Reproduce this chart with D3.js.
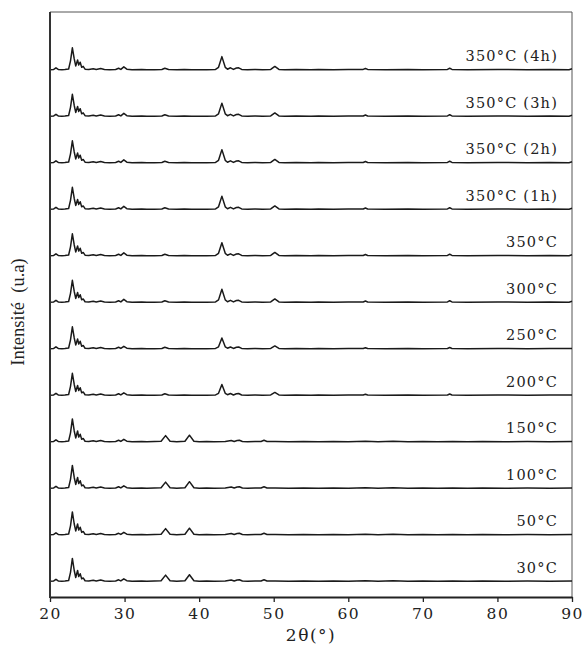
<!DOCTYPE html>
<html>
<head>
<meta charset="utf-8">
<script src="https://cdn.jsdelivr.net/npm/d3@7"></script>
<style>
    body { margin: 0; background: #fff; }
    svg { display: block; }
    .tick text { font-family: "DejaVu Serif", serif; font-size: 15.5px; letter-spacing: 1.5px; fill: #222; }
    .label { font-family: "DejaVu Serif", serif; font-size: 14.5px; letter-spacing: 1.2px; fill: #222; }
    .title { font-family: "DejaVu Serif", serif; font-size: 17px; letter-spacing: 1.5px; fill: #222; }
    .ytitle { font-family: "Liberation Serif", serif; font-size: 18.5px; fill: #222; white-space: pre; }
</style>
</head>
<body>
<svg id="chart"></svg>
<script>
"use strict";

const width = 585, height = 648;
const margin = {top: 12, right: 13, bottom: 51, left: 50};

// sample names, bottom to top
const samples = ['30°C', '50°C', '100°C', '150°C', '200°C', '250°C', '300°C',
    '350°C', '350°C (1h)', '350°C (2h)', '350°C (3h)', '350°C (4h)'];
// which pattern each sample uses
const sample_patterns = ['low', 'low', 'low', 'low', 'mid', 'mid', 'high',
    'high', 'high', 'high', 'high', 'high'];
const offset_step = 100;
const x_ticks = [20, 30, 40, 50, 60, 70, 80, 90];

// [2theta, intensity]
const xrd_low = [
    [20, 1], [20.5, 1.5], [20.8, 5], [21.1, 1.5], [21.6, 1], [22, 1.5], [22.5, 2.5], [22.75, 20], [23.0, 50],
    [23.25, 24], [23.45, 9], [23.7, 24], [23.85, 11], [24.05, 17], [24.25, 6], [24.45, 8], [24.7, 2],
    [25.2, 1.5], [25.8, 3], [26.2, 1.5], [26.8, 3.5], [27.3, 1.5], [28, 1], [28.8, 1.5], [29.2, 4],
    [29.5, 1.5], [29.9, 6], [30.3, 2], [31, 1], [32.3, 1.5], [33, 1], [34, 1.5], [34.9, 2], [35.5, 14],
    [36.1, 2], [37, 1], [38.1, 2], [38.7, 15], [39.3, 2], [40, 1], [41, 1.5], [42, 1], [43.5, 1.5],
    [44.3, 3.5], [44.7, 1.5], [45.1, 3.5], [45.4, 4], [45.8, 1.5], [46.5, 1], [47.5, 1.5], [48.3, 1.5],
    [48.7, 4], [49.1, 1.5], [50.2, 1.5], [52, 1], [54, 1.5], [56, 1], [58, 1.5], [60, 1], [62.3, 2],
    [64, 1], [66, 2], [68, 1], [70, 1.5], [72, 1], [74, 1.5], [76, 1], [78, 1.5], [81, 1], [84, 1.5],
    [87, 1], [90, 1.5]
];
const xrd_mid = [
    [20, 1], [20.5, 1.5], [20.8, 5], [21.1, 1.5], [21.6, 1], [22, 1.5], [22.5, 2.5], [22.75, 20], [23.0, 48],
    [23.25, 24], [23.45, 9], [23.7, 22], [23.85, 11], [24.05, 17], [24.25, 6], [24.45, 8], [24.7, 2],
    [25.2, 1.5], [25.8, 3], [26.2, 1.5], [26.8, 3.5], [27.3, 1.5], [28, 1], [28.8, 1.5], [29.2, 4],
    [29.5, 1.5], [29.9, 6], [30.3, 2], [31, 1], [32.3, 1.5], [33, 1], [34, 1], [35.0, 1.5], [35.4, 4],
    [35.9, 1.5], [37, 1], [38, 1.5], [39, 1], [40, 1], [41, 1], [42.2, 1.5], [42.6, 5], [43.05, 24],
    [43.5, 5], [43.8, 2], [44.2, 4.5], [44.6, 1.5], [45.0, 4], [45.3, 4.5], [45.7, 1.5], [46.5, 1],
    [47.5, 1.5], [48.5, 1], [49.6, 1.5], [50.15, 7], [50.7, 1.5], [51.5, 1], [53, 1.5], [55, 1],
    [56, 1.5], [58, 1], [60, 1.5], [62, 1.5], [62.3, 3], [62.6, 1.5], [65, 1], [68, 1.5], [70, 1],
    [73.3, 1.5], [73.6, 3.5], [73.9, 1.5], [76, 1], [80, 1.5], [84, 1], [87, 1.5], [90, 1.5]
];
const xrd_high = [
    [20, 1], [20.5, 1.5], [20.8, 5], [21.1, 1.5], [21.6, 1], [22, 1.5], [22.5, 2.5], [22.75, 20], [23.0, 48],
    [23.25, 24], [23.45, 9], [23.7, 22], [23.85, 11], [24.05, 17], [24.25, 6], [24.45, 8], [24.7, 2],
    [25.2, 1.5], [25.8, 3], [26.2, 1.5], [26.8, 3.5], [27.3, 1.5], [28, 1], [28.8, 1.5], [29.2, 4],
    [29.5, 1.5], [29.9, 7], [30.3, 2], [31, 1], [32.3, 1.5], [33, 1], [34, 1], [35.0, 1.5], [35.4, 4],
    [35.9, 1.5], [37, 1], [38, 1.5], [39, 1], [40, 1], [41, 1], [42.2, 1.5], [42.6, 6], [43.05, 29],
    [43.5, 6], [43.8, 2], [44.2, 5], [44.6, 1.5], [45.0, 4.5], [45.3, 5], [45.7, 1.5], [46.5, 1],
    [47.5, 1.5], [48.5, 1], [49.6, 1.5], [50.15, 8], [50.7, 1.5], [51.5, 1], [53, 1.5], [55, 1],
    [56, 1.5], [58, 1], [60, 1.5], [62, 1.5], [62.3, 3.5], [62.6, 1.5], [65, 1], [68, 1.5], [70, 1],
    [73.3, 1.5], [73.6, 4], [73.9, 1.5], [76, 1], [80, 1.5], [84, 1], [87, 1.5], [89.6, 1], [90, 3]
];
const patterns = {low: xrd_low, mid: xrd_mid, high: xrd_high};

const svg = d3.select('#chart').attr('width', width).attr('height', height);

const xScale = d3.scaleLinear().domain([20, 90]).range([margin.left, width - margin.right]);
const yScale = d3.scaleLinear().domain([-33, 1225]).range([height - margin.bottom, margin.top]);

const line = d3.line()
    .x(d => xScale(d[0]))
    .y(d => yScale(d[1]));

// frame (top and right)
svg.append('path')
    .attr('d', `M${margin.left},${margin.top}H${width - margin.right}V${height - margin.bottom}`)
    .attr('fill', 'none')
    .attr('stroke', '#555')
    .attr('stroke-width', 1);

samples.forEach((name, i) => {
    const offset = i * offset_step;
    const points = patterns[sample_patterns[i]].map(p => [p[0], p[1] + offset]);
    svg.append('path')
        .attr('class', 'trace')
        .attr('d', line(points))
        .attr('fill', 'none')
        .attr('stroke', '#1a1a1a')
        .attr('stroke-width', 1.5)
        .attr('stroke-linejoin', 'round');
    svg.append('text')
        .attr('class', 'label')
        .attr('x', 558)
        .attr('y', yScale(offset) - 9)
        .attr('text-anchor', 'end')
        .text(name);
});

const xAxis = d3.axisBottom(xScale)
    .tickValues(x_ticks)
    .tickFormat(d3.format('d'))
    .tickSizeInner(5)
    .tickSizeOuter(0)
    .tickPadding(6);

const gx = svg.append('g')
    .attr('transform', `translate(0,${height - margin.bottom})`)
    .call(xAxis);
gx.select('.domain').attr('stroke', '#222').attr('stroke-width', 2);
gx.selectAll('.tick line').attr('stroke', '#222').attr('stroke-width', 1.3);

// left axis line
svg.append('line')
    .attr('x1', margin.left).attr('x2', margin.left)
    .attr('y1', margin.top).attr('y2', height - margin.bottom + 1)
    .attr('stroke', '#333')
    .attr('stroke-width', 2);

svg.append('text')
    .attr('class', 'title')
    .attr('x', 311)
    .attr('y', 641)
    .attr('text-anchor', 'middle')
    .text('2θ(°)');

svg.append('text')
    .attr('class', 'ytitle')
    .attr('transform', `translate(24,312) rotate(-90)`)
    .attr('text-anchor', 'middle')
    .text('Intensité  (u.a)');
</script>
</body>
</html>
